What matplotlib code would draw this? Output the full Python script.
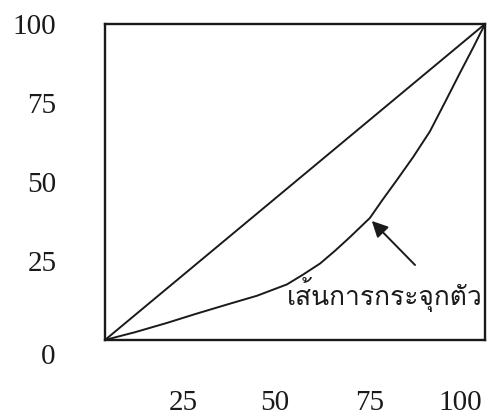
import numpy as np
import matplotlib
matplotlib.use('Agg')
import matplotlib.pyplot as plt
from matplotlib import font_manager as fm
from fontTools.ttLib import TTFont

# Lorenz curve points (percent of population, percent of income)
lorenz_x = [0, 8, 16.3, 24, 32.9, 40, 47.9, 52, 56.6, 60.5, 64.5, 69.7,
            73, 76.8, 81.1, 85.5, 89.5, 93.4, 97, 100]
lorenz_y = [0, 2.5, 5.4, 8.3, 11.5, 14.0, 17.6, 20.6, 24.2, 28.2, 32.6, 38.6,
            44.3, 50.6, 57.9, 66.0, 75.3, 84.5, 92.8, 100]
equality = [0, 100]

ytick_vals = [25, 50, 75, 100]
xtick_labels = ['25', '50', '75', '100']
xtick_pos = [20.5, 44.7, 69.7, 93.4]
label_text = 'เส้นการกระจุกตัว'


def find_thai_font():
    for f in fm.fontManager.ttflist:
        try:
            tt = TTFont(f.fname, fontNumber=0, lazy=True)
            cmap = tt.getBestCmap()
            if cmap and 0x0E40 in cmap and 0x0E49 in cmap:
                return f.name
        except Exception:
            pass
    return 'DejaVu Sans'


thai_font = find_thai_font()
ink = '#1a1a1a'

fig = plt.figure(figsize=(4.87, 4.20), dpi=100)
ax = fig.add_axes([0.2156, 0.1905, 0.7803, 0.7524])

ax.plot(equality, equality, color=ink, lw=1.4)
ax.plot(lorenz_x, lorenz_y, color=ink, lw=1.4, solid_joinstyle='round')

ax.set_xlim(0, 100)
ax.set_ylim(0, 100)
for s in ax.spines.values():
    s.set_linewidth(1.7)
    s.set_color(ink)

serif = 'Liberation Serif'
ax.set_yticks(ytick_vals)
ax.set_yticklabels([str(v) for v in ytick_vals], fontfamily=serif, fontsize=21)
ax.set_xticks(xtick_pos)
ax.set_xticklabels(xtick_labels, fontfamily=serif, fontsize=21)
ax.tick_params(axis='both', length=0, pad=35, colors=ink)
ax.tick_params(axis='x', pad=36)
ax.text(-13, -5.5, '0', fontfamily=serif, fontsize=21, ha='right', va='center',
        color=ink, clip_on=False)

ax.annotate('', xy=(69.7, 38.3), xytext=(82.1, 23.1),
            arrowprops=dict(arrowstyle='-|>', color=ink, lw=1.4,
                            mutation_scale=24))
ax.text(47.9, 11.2, label_text, fontfamily=[thai_font, 'DejaVu Sans'], fontsize=19,
        ha='left', va='baseline', color=ink)

fig.savefig('out.png', dpi=100)
